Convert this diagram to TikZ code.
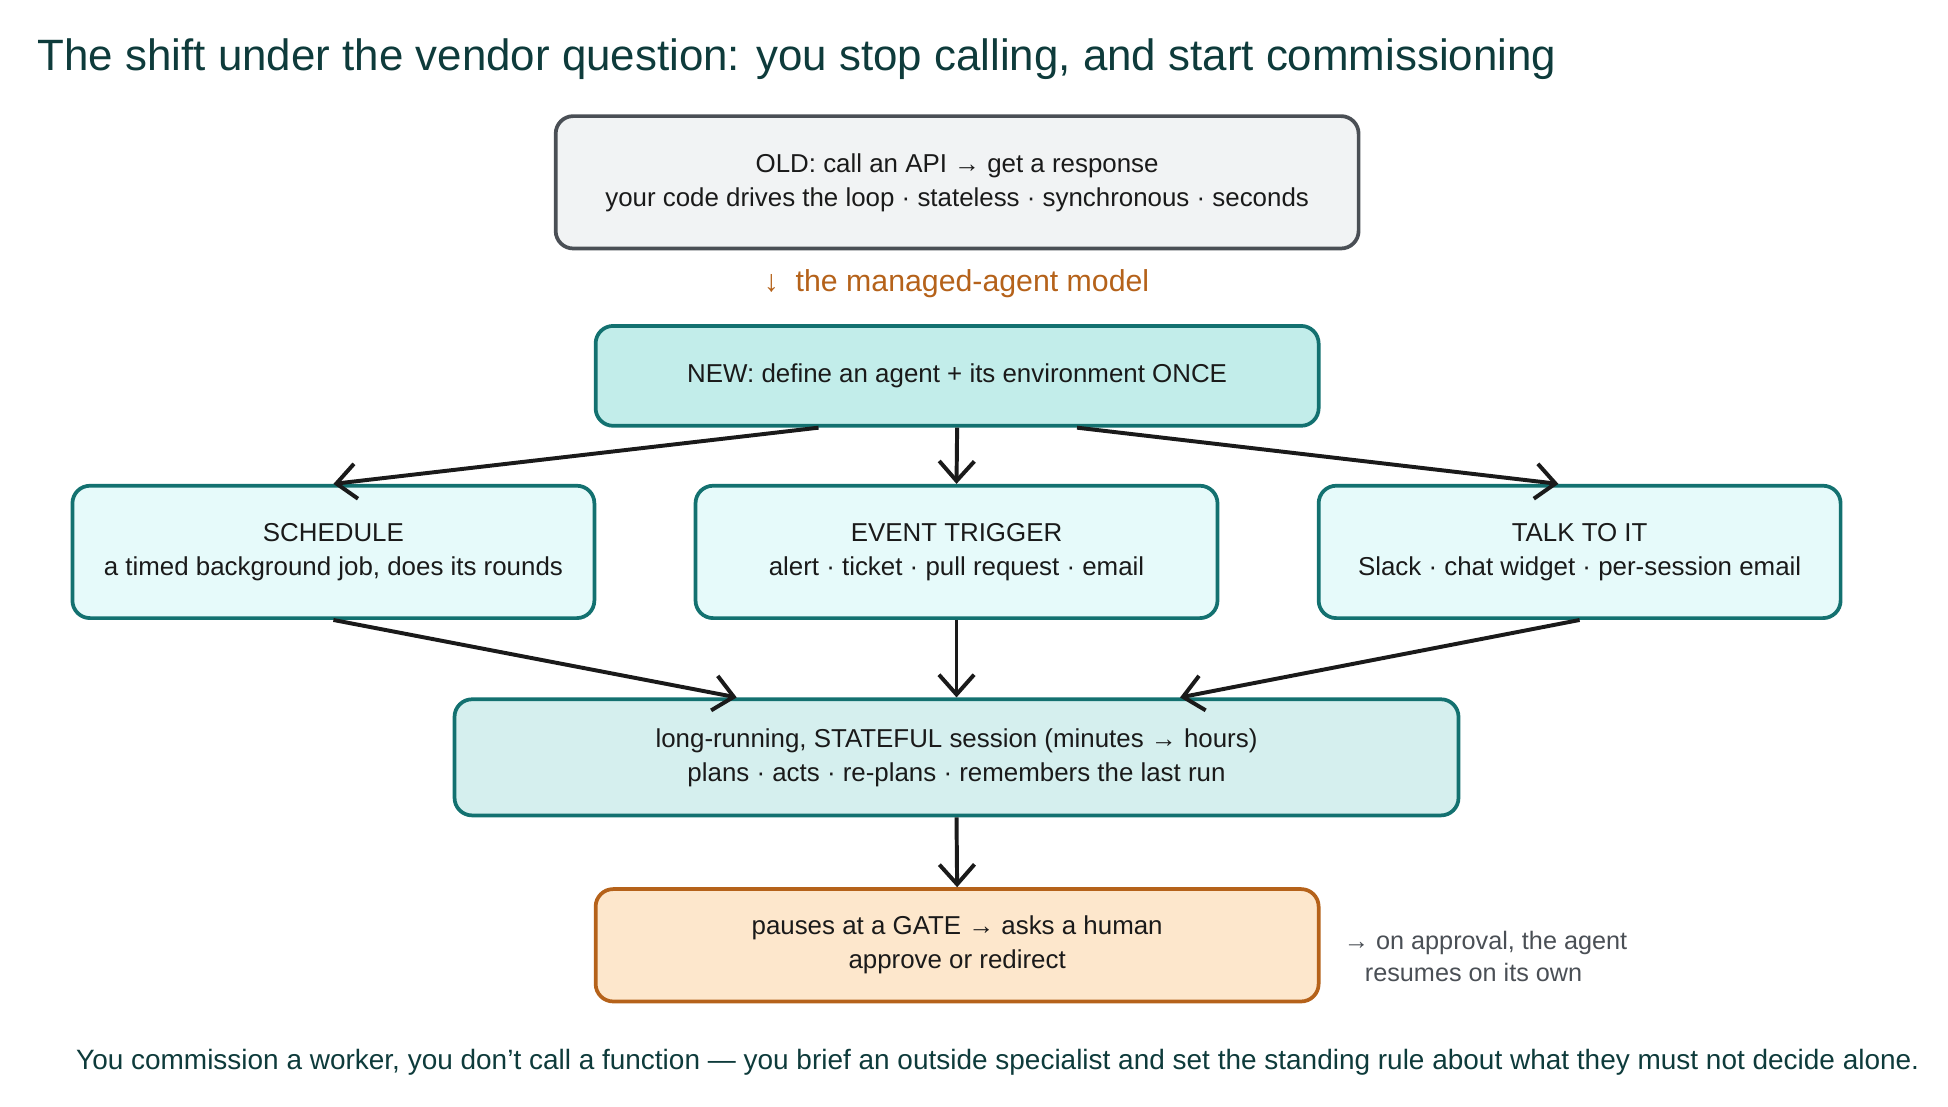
\documentclass[tikz,border=0pt]{standalone}
\usepackage{fontspec}
\setmainfont{Liberation Sans}
\usetikzlibrary{arrows.meta,calc}
\definecolor{titlecol}{HTML}{0E3B3B}
\definecolor{teal}{HTML}{137170}
\definecolor{greyline}{HTML}{4A4F55}
\definecolor{greyfill}{HTML}{F1F3F4}
\definecolor{newfill}{HTML}{C2EDEA}
\definecolor{trigfill}{HTML}{E6FAFA}
\definecolor{sessfill}{HTML}{D5EFEE}
\definecolor{orange}{HTML}{B5621A}
\definecolor{gatefill}{HTML}{FDE7CC}
\definecolor{inktext}{HTML}{1A1A1A}
\tikzset{
  box/.style={draw=teal, line width=1.7pt, rounded corners=8pt, align=center,
    text=inktext, font=\fontsize{11.8}{15.5}\selectfont, inner sep=0pt},
  flow/.style={draw=inktext, line width=1.8pt, -{Straight Barb[length=9pt,width=16pt]}}
}
\begin{document}
\begin{tikzpicture}[x=0.02cm,y=-0.02cm]
\useasboundingbox (0,0) rectangle (1560,886.5);

\node[anchor=west, text=titlecol, font=\fontsize{20}{23}\selectfont] (title) at (24,47)
  {The shift under the vendor question: you stop calling, and start commissioning};

\node[box, draw=greyline, fill=greyfill, minimum width=643*0.02cm, minimum height=106*0.02cm] (old) at (766.5,146)
  {OLD: call an API → get a response\\your code drives the loop · stateless · synchronous · seconds};
\node[text=orange, font=\fontsize{13.8}{16}\selectfont] (model) at (766,227) {↓\ \ the managed-agent model};

\node[box, fill=newfill, minimum width=579*0.02cm, minimum height=80*0.02cm] (new) at (766.5,301)
  {NEW: define an agent + its environment ONCE};

\node[box, fill=trigfill, minimum width=418*0.02cm, minimum height=106*0.02cm] (sched) at (267,442)
  {SCHEDULE\\a timed background job, does its rounds};
\node[box, fill=trigfill, minimum width=418*0.02cm, minimum height=106*0.02cm] (event) at (766,442)
  {EVENT TRIGGER\\alert · ticket · pull request · email};
\node[box, fill=trigfill, minimum width=418*0.02cm, minimum height=106*0.02cm] (talk) at (1265,442)
  {TALK TO IT\\Slack · chat widget · per-session email};

\node[box, fill=sessfill, minimum width=804*0.02cm, minimum height=93*0.02cm] (session) at (766,606.5)
  {long-running, STATEFUL session (minutes → hours)\\plans · acts · re-plans · remembers the last run};

\node[box, draw=orange, fill=gatefill, minimum width=579*0.02cm, minimum height=90*0.02cm] (gate) at (766.5,757)
  {pauses at a GATE → asks a human\\approve or redirect};
\node[anchor=west, align=left, text=greyline, font=\fontsize{11.5}{14.5}\selectfont] (note) at (1070,766)
  {→ on approval, the agent\\\ \ \ resumes on its own};

\node[text=titlecol, font=\fontsize{12.75}{15}\selectfont] (footer) at (799,851)
  {You commission a worker, you don{\char"0027}t call a function — you brief an outside specialist and set the standing rule about what they must not decide alone.};

\draw[flow] ($(new.south)+(-111,0)$) -- (sched.north);
\draw[flow] (new.south) -- (event.north);
\draw[flow] ($(new.south)+(96,0)$) -- ($(talk.north)+(-17,0)$);
\draw[flow] (sched.south) -- ($(session.north)+(-176,0)$);
\draw[flow] (event.south) -- (session.north);
\draw[flow] (talk.south) -- ($(session.north)+(179,0)$);
\draw[flow] (session.south) -- (gate.north);
\end{tikzpicture}
\end{document}
